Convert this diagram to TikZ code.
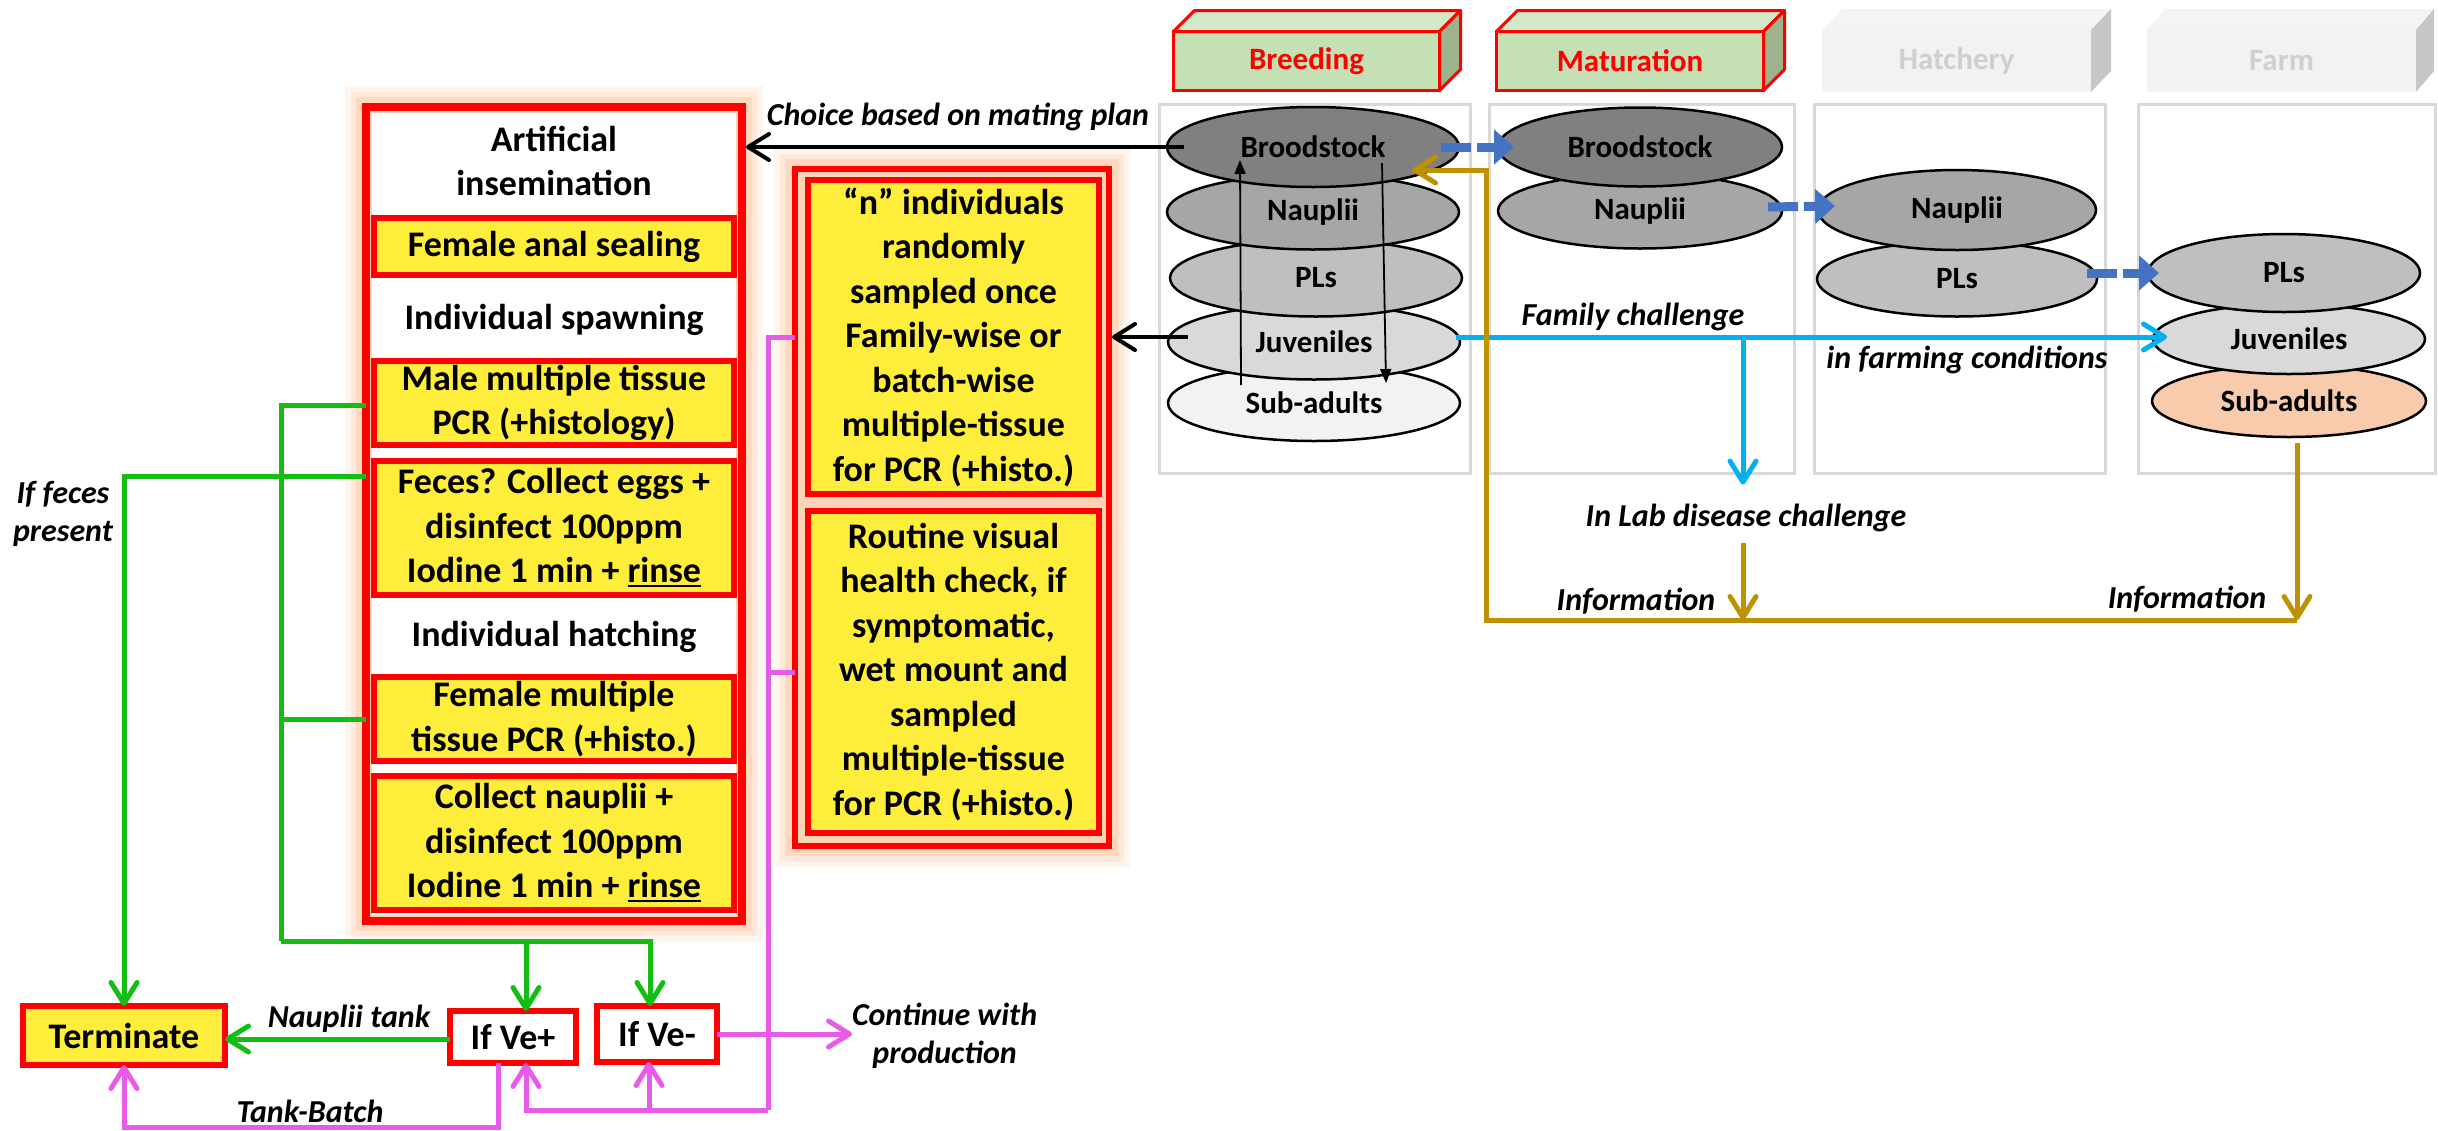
\documentclass[tikz,border=0pt]{standalone}
\usepackage{fontspec}
\setmainfont{Carlito}
\usetikzlibrary{arrows.meta,shapes.geometric,calc}
\definecolor{boxyel}{HTML}{FFED3C}
\definecolor{peach}{HTML}{FBD3B6}
\definecolor{glow}{HTML}{FFA060}
\definecolor{grn}{HTML}{14BD14}
\definecolor{pnk}{HTML}{E85BE8}
\definecolor{cyanb}{HTML}{00B0F0}
\definecolor{gold}{HTML}{BF9000}
\definecolor{dblue}{HTML}{4472C4}
\definecolor{framegray}{HTML}{D9D9D9}
\definecolor{hdrfront}{HTML}{C5E0B4}
\definecolor{hdrtop}{HTML}{D3E7C9}
\definecolor{hdrside}{HTML}{9DB38E}
\definecolor{ghfront}{HTML}{F2F2F2}
\definecolor{ghtop}{HTML}{F4F4F4}
\definecolor{ghside}{HTML}{C6C6C6}
\definecolor{ghtext}{HTML}{CFCFCF}
\definecolor{ga}{HTML}{808080}
\definecolor{gb}{HTML}{A6A6A6}
\definecolor{gc}{HTML}{BFBFBF}
\definecolor{gd}{HTML}{D9D9D9}
\definecolor{ge}{HTML}{F2F2F2}
\definecolor{subp}{HTML}{F8CBAD}
\newcommand{\bxf}{\fontsize{36}{44.5}\selectfont\bfseries}
\newcommand{\lbf}{\fontsize{32}{38}\selectfont\bfseries\itshape}
\newcommand{\elf}{\fontsize{31}{36}\selectfont\bfseries}
\newcommand{\hdf}{\fontsize{31}{36}\selectfont\bfseries}
\newcommand{\ulx}[1]{\setbox0\hbox{#1}\rlap{\rule[-4.5pt]{\wd0}{2.5pt}}\box0}
\tikzset{
  x=1pt, y=-1pt,
  every node/.style={outer sep=0pt},
  vbarb/.tip={Straight Barb[length=21pt,width=26pt,round]},
  glowfx/.style={preaction={draw=glow, draw opacity=0.10, line width=42pt},
                 preaction={draw=glow, draw opacity=0.15, line width=30pt},
                 preaction={draw=glow, draw opacity=0.22, line width=20pt}},
  bigbox/.style={draw=red, line width=8pt, fill=peach, inner sep=0pt, glowfx},
  ybox/.style={draw=red, line width=6pt, fill=boxyel, inner sep=0pt, align=center, font=\bxf},
  wbox/.style={draw=red, line width=6pt, fill=white, inner sep=0pt, align=center, font=\bxf},
  plain/.style={inner sep=0pt, align=center, font=\bxf},
  lab/.style={inner sep=0pt, align=center, font=\lbf},
  ell/.style={ellipse, draw=black, line width=2.5pt, inner sep=0pt, font=\elf},
  frm/.style={draw=framegray, line width=3pt, inner sep=0pt},
  hfront/.style={draw=red, line width=3pt, fill=hdrfront, inner sep=0pt, font=\hdf, text=red},
  gfront/.style={fill=ghfront, inner sep=0pt, font=\hdf, text=ghtext},
  gline/.style={draw=grn, line width=5pt},
  pline/.style={draw=pnk, line width=5pt},
  bline/.style={draw=cyanb, line width=5pt},
  gdline/.style={draw=gold, line width=5pt},
  kline/.style={draw=black, line width=4pt},
  tline/.style={draw=black, line width=1.8pt, -{Triangle[length=14pt,width=11pt]}},
  dashar/.style={draw=dblue, line width=9pt, dash pattern=on 30pt off 6pt, -{Triangle[length=20pt,width=34pt]}},
}
\begin{document}
\begin{tikzpicture}
\useasboundingbox (0,0) rectangle (2438,1130);

% ---------- column frames ----------
\node[frm, minimum width=311, minimum height=369] (colB) at (1314.5,288.5) {};
\node[frm, minimum width=305, minimum height=369] (colM) at (1641.5,288.5) {};
\node[frm, minimum width=291, minimum height=369] (colH) at (1959.5,288.5) {};
\node[frm, minimum width=297, minimum height=369] (colF) at (2286.5,288.5) {};

% ---------- headers ----------
\node[hfront, minimum width=266, minimum height=59] (hB) at (1306.5,61) {Breeding};
\draw[red, line width=3pt, fill=hdrtop, line join=round] (hB.north west) -- ++(21,-21) -- ++(266,0) -- (hB.north east) -- cycle;
\draw[red, line width=3pt, fill=hdrside, line join=round] (hB.north east) -- ++(21,-21) -- ++(0,59) -- (hB.south east) -- cycle;

\node[hfront, minimum width=267, minimum height=59] (hM) at (1630,61) {Maturation};
\draw[red, line width=3pt, fill=hdrtop, line join=round] (hM.north west) -- ++(21,-21) -- ++(267,0) -- (hM.north east) -- cycle;
\draw[red, line width=3pt, fill=hdrside, line join=round] (hM.north east) -- ++(21,-21) -- ++(0,59) -- (hM.south east) -- cycle;

\node[gfront, minimum width=269, minimum height=62] (hH) at (1956.5,61) {Hatchery};
\fill[ghtop] (hH.north west) -- ++(20,-21) -- ++(269,0) -- (hH.north east) -- cycle;
\fill[ghside] (hH.north east) -- ++(20,-21) -- ++(0,62) -- (hH.south east) -- cycle;

\node[gfront, minimum width=269, minimum height=62] (hF) at (2281.5,61) {Farm};
\fill[ghtop] (hF.north west) -- ++(18,-21) -- ++(269,0) -- (hF.north east) -- cycle;
\fill[ghside] (hF.north east) -- ++(18,-21) -- ++(0,62) -- (hF.south east) -- cycle;

% ---------- ellipses ----------
\node[ell, fill=ge, minimum width=292, minimum height=76] (bSub) at (1314,403) {Sub-adults};
\node[ell, fill=gd, minimum width=292, minimum height=75] (bJuv) at (1314,342) {Juveniles};
\node[ell, fill=gc, minimum width=292, minimum height=77] (bPL) at (1316,278) {PLs};
\node[ell, fill=gb, minimum width=292, minimum height=75] (bNaup) at (1313,212) {Nauplii};
\node[ell, fill=ga, minimum width=292, minimum height=80] (bBrood) at (1313,147) {Broodstock};

\node[ell, fill=gb, minimum width=284, minimum height=75] (mNaup) at (1640,211) {Nauplii};
\node[ell, fill=ga, minimum width=284, minimum height=79] (mBrood) at (1640,147) {Broodstock};

\node[ell, fill=gc, minimum width=280, minimum height=75] (hPL) at (1957,279) {PLs};
\node[ell, fill=gb, minimum width=278, minimum height=80] (hNaup) at (1957,210) {Nauplii};

\node[ell, fill=subp, minimum width=274, minimum height=72] (fSub) at (2289,401) {Sub-adults};
\node[ell, fill=gd, minimum width=272, minimum height=70] (fJuv) at (2289,339) {Juveniles};
\node[ell, fill=gc, minimum width=272, minimum height=78] (fPL) at (2284,273) {PLs};

% ---------- big boxes ----------
\node[bigbox, minimum width=376, minimum height=814] (lbox) at (554,514) {};
\fill[white] ([shift={(6pt,-6pt)}]lbox.north west) rectangle ([shift={(-6pt,6pt)}]lbox.south east);
\node[bigbox, line width=6pt, minimum width=314, minimum height=677] (mbox) at (952,507.5) {};

\node[plain] (ai) at (554,161) {Artificial\\insemination};
\node[ybox, minimum width=360, minimum height=57] (fas) at (554,246.5) {Female anal sealing};
\node[plain] (isp) at (554,320) {Individual spawning};
\node[ybox, minimum width=360, minimum height=84] (male) at (554,403) {Male multiple tissue\\PCR (+histology)};
\node[ybox, minimum width=360, minimum height=134] (feces) at (554,528) {Feces? Collect eggs +\\disinfect 100ppm\\Iodine 1 min + \ulx{rinse}};
\node[plain] (iha) at (554,637) {Individual hatching};
\node[ybox, minimum width=360, minimum height=84] (fmul) at (554,719) {Female multiple\\tissue PCR (+histo.)};
\node[ybox, minimum width=360, minimum height=134] (cnau) at (554,843) {Collect nauplii +\\disinfect 100ppm\\Iodine 1 min + \ulx{rinse}};

\node[ybox, minimum width=291, minimum height=314] (nind) at (953.5,337) {“n” individuals\\randomly\\sampled once\\Family-wise or\\batch-wise\\multiple-tissue\\for PCR (+histo.)};
\node[ybox, minimum width=291, minimum height=322] (rout) at (953.5,672) {Routine visual\\health check, if\\symptomatic,\\wet mount and\\sampled\\multiple-tissue\\for PCR (+histo.)};

% ---------- bottom boxes ----------
\node[ybox, minimum width=202, minimum height=59] (term) at (124,1035.5) {Terminate};
\node[wbox, minimum width=126, minimum height=52] (ifpos) at (513,1037) {If Ve+};
\node[wbox, minimum width=120, minimum height=56] (ifneg) at (657,1034) {If Ve-};

% ---------- labels ----------
\node[lab, anchor=base] (choice) at (958,125) {Choice based on mating plan};
\node[lab, anchor=base] (famch) at (1633,325) {Family challenge};
\node[lab, anchor=base] (farmc) at (1967,368) {in farming conditions};
\node[lab, anchor=base] (labch) at (1746,526) {In Lab disease challenge};
\node[lab, anchor=base] (info1) at (1636,610) {Information};
\node[lab, anchor=base] (info2) at (2187,608) {Information};
\node[lab, anchor=base] (ntank) at (349,1027) {Nauplii tank};
\node[lab, anchor=base] (tbatch) at (310,1122) {Tank-Batch};
\node[lab] (iffec) at (63,514) {If feces\\present};
\node[lab, anchor=west] (cont) at (852,1036) {Continue with\\production};

% ---------- coordinates ----------
\coordinate (gtop) at (281,405);
\coordinate (gbot) at (281,941);
\coordinate (fy) at (0,476);
\coordinate (ptop) at (768,337);
\coordinate (pbot) at (768,1110);
\coordinate (tb) at (0,1127);
\coordinate (blueY) at (0,337);
\coordinate (goldY) at (0,620);
\coordinate (goldX) at (1486,0);

% ---------- green ----------
\draw[gline] (lbox.west |- gtop) -- (gtop) -- (gbot);
\draw[gline] (lbox.west |- fmul.west) -- (gtop |- fmul.west);
\draw[gline, -vbarb] (gbot) -| ([xshift=-7pt]ifneg.north);
\draw[gline, -vbarb] ([xshift=13pt]ifpos.north |- gbot) -- ([xshift=13pt]ifpos.north);
\draw[gline, -vbarb] (lbox.west |- fy) -| (term.north);
\draw[gline, -vbarb] ([yshift=-2pt]ifpos.west) -- ([yshift=-2pt]term.east |- ifpos.west);

% ---------- pink ----------
\draw[pline] (mbox.west |- nind.west) -- (ptop) -- (pbot);
\draw[pline] (mbox.west |- rout.west) -- (ptop |- rout.west);
\draw[pline, -vbarb] (pbot) -| ([xshift=13pt]ifpos.south);
\draw[pline, -vbarb] ([xshift=-8pt]ifneg.south |- pbot) -- ([xshift=-8pt]ifneg.south);
\draw[pline, -vbarb] (ifneg.east) -- (cont.west |- ifneg.east);
\draw[pline, -vbarb] ([xshift=-15pt]ifpos.south) -- ([xshift=-15pt]ifpos.south |- tb) -| (term.south);

% ---------- black ----------
\draw[kline, -vbarb] ([xshift=17pt]bBrood.west) -- ([xshift=4pt]lbox.east |- bBrood.west);
\draw[kline, -vbarb] ([xshift=20pt]bJuv.west |- blueY) -- ([xshift=3pt]mbox.east |- blueY);
\draw[tline] ($(bSub.center)+(-73,-18)$) -- ($(bBrood.center)+(-73,13)$);
\draw[tline] ($(bBrood.center)+(69,16)$) -- ($(bSub.center)+(72,-20)$);

% ---------- blue dashed ----------
\draw[dashar] ([xshift=-18pt]bBrood.east) -- ([xshift=16pt]mBrood.west);
\draw[dashar] ([xshift=-14pt,yshift=4pt]mNaup.east) -- ([xshift=17pt,yshift=4pt]hNaup.west);
\draw[dashar] ([xshift=-10pt]hPL.east |- fPL.west) -- ([xshift=11pt]fPL.west);

% ---------- cyan ----------
\draw[bline, -vbarb] ([xshift=-4pt]bJuv.east |- blueY) -- ([xshift=14pt]fJuv.west |- blueY);
\draw[bline, -vbarb] ([xshift=-3pt]labch.north |- blueY) -- ([xshift=-3pt,yshift=19pt]labch.north);

% ---------- gold ----------
\draw[gdline, -vbarb] ([xshift=8pt,yshift=-6pt]fSub.south) -- ([xshift=8pt]fSub.south |- goldY);
\draw[gdline, -vbarb] ([xshift=-3pt,yshift=-12pt]labch.south) -- ([xshift=-3pt]labch.south |- goldY);
\draw[gdline, -vbarb, line join=miter] ([xshift=8pt]fSub.south |- goldY) -- (goldX |- goldY) |- ([shift={(-47pt,-23pt)}]bBrood.east);
\end{tikzpicture}
\end{document}
